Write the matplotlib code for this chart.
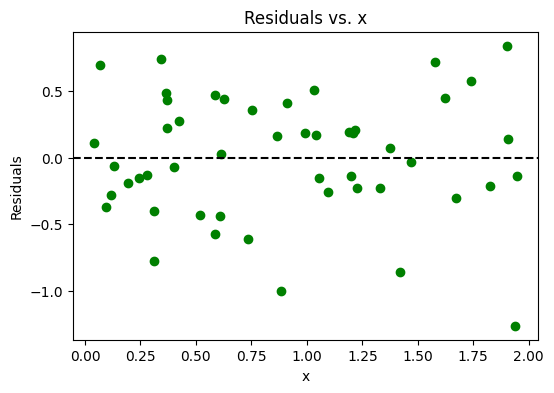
import matplotlib
matplotlib.use('Agg')
import matplotlib.pyplot as plt

# values
x = [0.041, 0.066, 0.095, 0.116, 0.131, 0.194, 0.242, 0.280, 0.312, 0.312,
     0.341, 0.364, 0.368, 0.368, 0.400, 0.424, 0.519, 0.586, 0.586, 0.607,
     0.612, 0.627, 0.735, 0.753, 0.866, 0.884, 0.912, 0.992, 1.033, 1.041,
     1.055, 1.096, 1.189, 1.198, 1.209, 1.219, 1.226, 1.330, 1.374, 1.420,
     1.470, 1.577, 1.623, 1.673, 1.739, 1.825, 1.903, 1.907, 1.939, 1.946]
residuals = [0.110, 0.695, -0.370, -0.280, -0.060, -0.190, -0.152, -0.130, -0.400, -0.775,
             0.740, 0.485, 0.430, 0.223, -0.070, 0.275, -0.430, 0.470, -0.572, -0.437,
             0.028, 0.440, -0.610, 0.358, 0.165, -1.000, 0.410, 0.185, 0.508, 0.170,
             -0.152, -0.257, 0.193, -0.137, 0.185, 0.205, -0.228, -0.228, 0.072, -0.857,
             -0.032, 0.718, 0.448, -0.302, 0.575, -0.210, 0.840, 0.140, -1.262, -0.137]

plt.figure(figsize=(6, 4))
plt.scatter(x, residuals, color='green')
plt.axhline(0, color='black', linestyle='--')
plt.title('Residuals vs. x')
plt.xlabel('x')
plt.ylabel('Residuals')
plt.savefig('out.png', bbox_inches='tight')
